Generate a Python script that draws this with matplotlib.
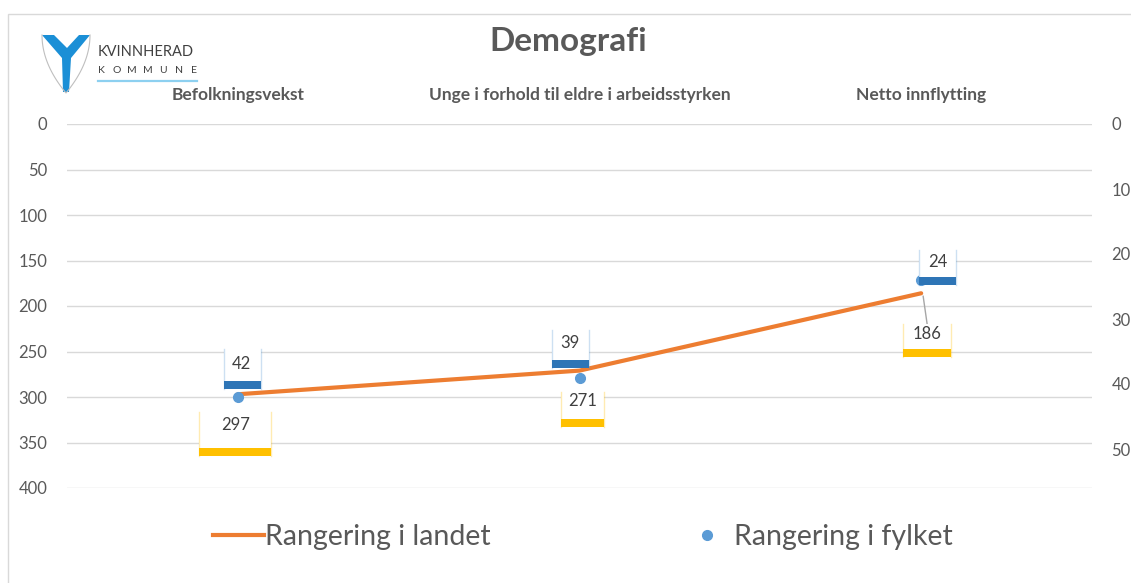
import numpy as np
import matplotlib
matplotlib.use("Agg")
import matplotlib.pyplot as plt
import matplotlib.transforms as mtransforms
from matplotlib.patches import Rectangle, Polygon
from matplotlib.lines import Line2D

# Data
kategorier = ["Befolkningsvekst", "Unge i forhold til eldre i arbeidsstyrken", "Netto innflytting"]
landet = [297, 271, 186]
fylket = [42, 39, 24]
venstre_ticks = [0, 50, 100, 150, 200, 250, 300, 350, 400]
hoyre_ticks = [0, 10, 20, 30, 40, 50]

ORANSJE = "#ED7D31"
BLA = "#5B9BD5"
BLA_MORK = "#2E75B6"
GULL = "#FFC000"
GRID = "#D9D9D9"
TEKST = "#595959"

plt.rcParams["font.family"] = ["Lato", "DejaVu Sans"]

W, H = 1131, 583
fig = plt.figure(figsize=(W / 100, H / 100), dpi=100)

def px(x0, y0, x1, y1):
    # figure rectangle from image pixels (y downwards)
    return [x0 / W, 1 - y1 / H, (x1 - x0) / W, (y1 - y0) / H]

ax = fig.add_axes(px(67, 124, 1092, 488))
ax2 = ax.twinx()

x = np.arange(len(kategorier))
ax.set_xlim(-0.5, len(kategorier) - 0.5)
ax.set_ylim(400, 0)
ax2.set_ylim(56, 0)

ax.set_yticks(venstre_ticks)
ax2.set_yticks(hoyre_ticks)
ax.grid(axis="y", color=GRID, lw=1)
ax.set_axisbelow(True)
for a in (ax, ax2):
    for s in a.spines.values():
        s.set_visible(False)
ax.tick_params(axis="y", length=0, pad=14, labelsize=12, labelcolor=TEKST)
ax2.tick_params(axis="y", length=0, pad=14, labelsize=12, labelcolor=TEKST)

ax.xaxis.tick_top()
ax.set_xticks(x)
ax.set_xticklabels(kategorier, fontweight="bold")
ax.tick_params(axis="x", length=0, pad=15, labelsize=12.5, labelcolor=TEKST)

ax.plot(x, landet, color=ORANSJE, lw=3, solid_capstyle="round", zorder=3)
ax2.plot(x, fylket, "o", color=BLA, ms=7, zorder=4)

# data label boxes, offsets in pixels (x right, y down) from the point
bla_etiketter = [(-14, 23, -48, -8, 4, -33), (-28, 9, -48, -10, -10, -35), (-2, 35, -30, 5, 17, -18)]
oransje_etiketter = [(-39, 33, 18, 62, -2, 31), (-19, 24, 21, 56, 3, 30), (-18, 30, 31, 64, 6, 41)]

def etikett(a, xv, yv, verdi, boks, farge, strek):
    bx0, bx1, by0, by1, tx, ty = boks
    tr = mtransforms.ScaledTranslation(xv, yv, a.transData)
    a.add_patch(Rectangle((bx0, -by1), bx1 - bx0, by1 - by0, transform=tr,
                          facecolor="white", edgecolor="none", zorder=5, clip_on=False))
    for sx in (bx0, bx1):
        a.add_line(Line2D([sx, sx], [-by1, -by0], transform=tr, color=farge,
                          alpha=0.3, lw=1, zorder=6, clip_on=False))
    a.add_patch(Rectangle((bx0, -by1), bx1 - bx0, 8, transform=tr,
                          facecolor=strek, edgecolor="none", zorder=6, clip_on=False))
    a.text(tx, -ty, str(verdi), transform=tr, ha="center", va="center",
           fontsize=12, color="#404040", zorder=7)

for i, v in enumerate(fylket):
    etikett(ax2, x[i], v, v, bla_etiketter[i], BLA, BLA_MORK)
for i, v in enumerate(landet):
    etikett(ax, x[i], v, v, oransje_etiketter[i], GULL, GULL)

# leader line for the last orange label
tr = mtransforms.ScaledTranslation(x[2], landet[2], ax.transData)
ax.add_line(Line2D([2, 6], [-3, -31], transform=tr, color="#A6A6A6", lw=1, zorder=4, clip_on=False))

# title
fig.text(568 / W, 1 - 42 / H, "Demografi", ha="center", va="center",
         fontsize=24, fontweight="bold", color=TEKST)

# legend
handles = [Line2D([], [], color=ORANSJE, lw=3),
           Line2D([], [], ls="none", marker="o", color=BLA, ms=7)]
fig.legend(handles, ["Rangering i landet", "Rangering i fylket"], loc="center",
           bbox_to_anchor=(583 / W, 1 - 537 / H), ncol=2, frameon=False,
           fontsize=20.5, labelcolor=TEKST, handlelength=1.8, handletextpad=0.05,
           columnspacing=6.7)

# chart frame
fig.patches.append(Rectangle((8 / W, -0.1), 1.2, 1 - 14 / H + 0.1, transform=fig.transFigure,
                             facecolor="none", edgecolor=GRID, lw=1))

# logo
logo = fig.add_axes([0, 0, 1, 1], zorder=10)
logo.set_xlim(0, W)
logo.set_ylim(H, 0)
logo.axis("off")
logo.patch.set_alpha(0)
t = np.linspace(0, 1, 40)
sx = np.concatenate([42 + 24 * t ** 2, (90 - 24 * t ** 2)[::-1]])
sy = np.concatenate([35 + 58 * t, (35 + 58 * t)[::-1]])
logo.plot(sx, sy, color="#BFBFBF", lw=0.8)
logo.add_patch(Polygon([(42, 35), (54, 35), (67, 48), (79, 35), (90, 35), (71, 58),
                        (69, 92), (63, 92), (62, 58)], closed=True,
                       facecolor="#1B8FD6", edgecolor="none"))
logo.text(98, 52, "KVINNHERAD", ha="left", va="center", fontsize=10.5, color="#404040")
for k, bokstav in zip(np.linspace(101, 194, 7), "KOMMUNE"):
    logo.text(k, 70.5, bokstav, ha="center", va="center", fontsize=7.5, color="#404040")
logo.plot([98, 197], [81, 81], color="#8DD0F0", lw=1.6)

fig.savefig("out.png", dpi=100)
